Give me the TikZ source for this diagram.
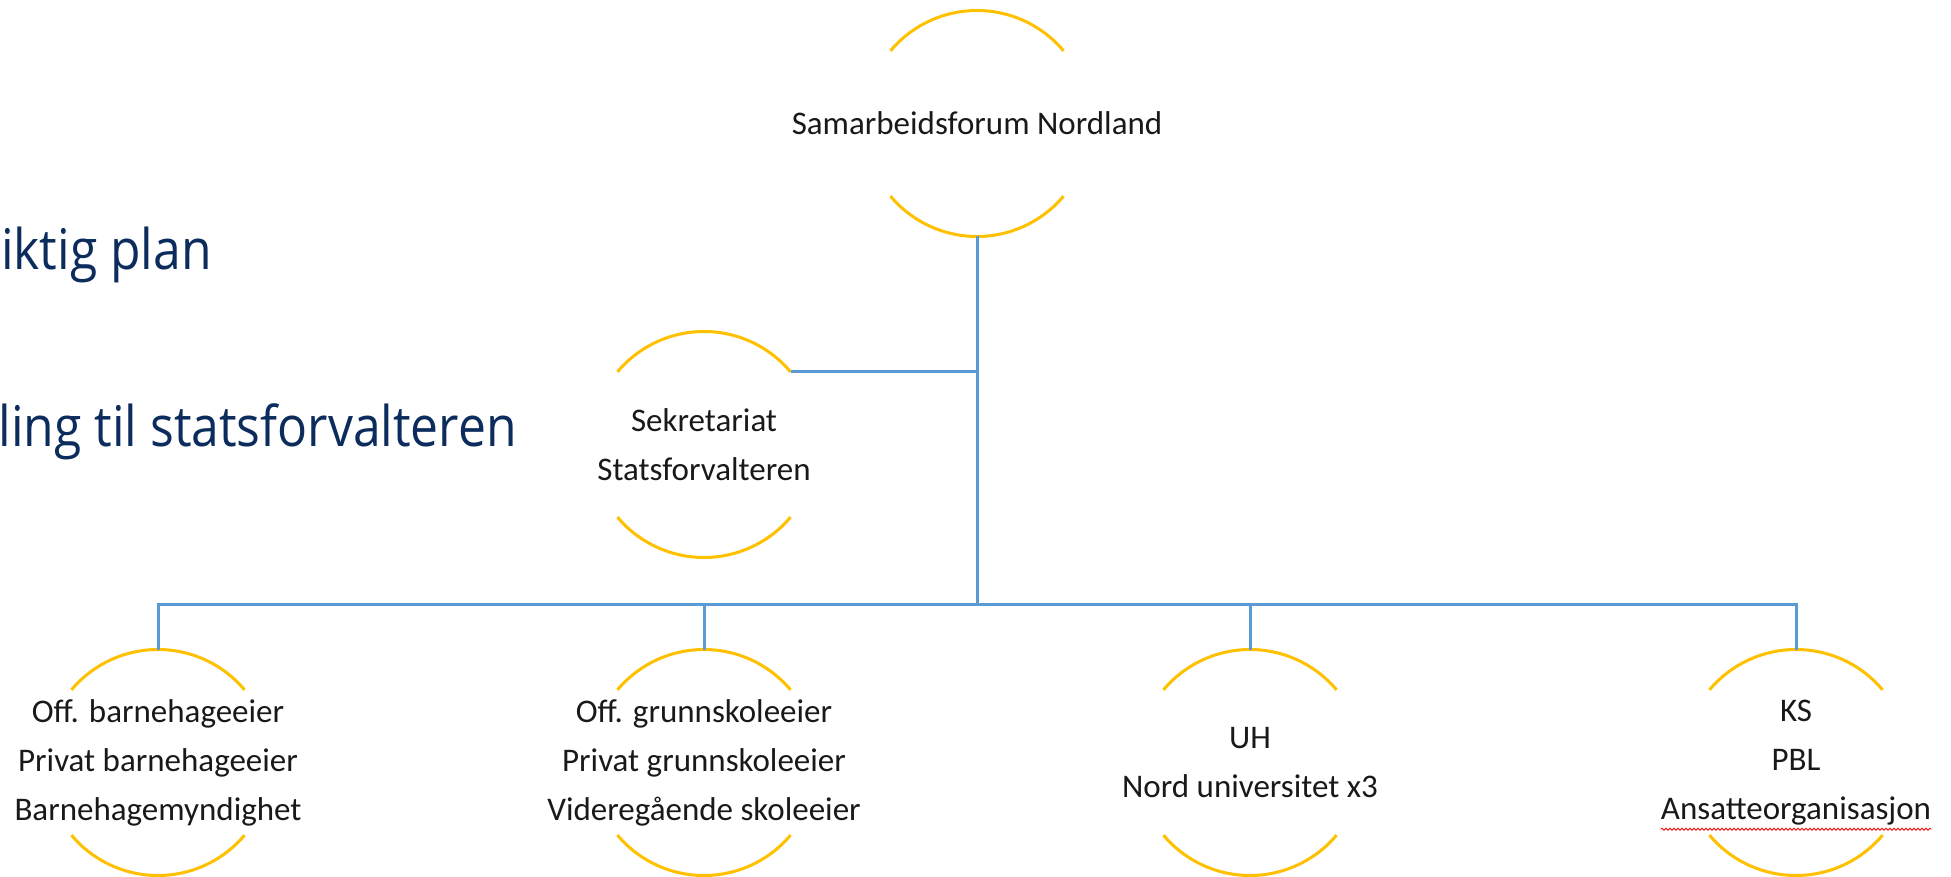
\documentclass[tikz,border=0pt]{standalone}
\usepackage{fontspec}
\setmainfont{Carlito}
\newfontfamily\slidefont[FakeStretch=0.89]{Open Sans}
\usetikzlibrary{decorations.pathmorphing}
\definecolor{ringgold}{HTML}{FFC000}
\definecolor{linkblue}{HTML}{5B9BD5}
\definecolor{slidenavy}{HTML}{0B2C5C}
\newcommand\ringarcs[1]{%
  \draw[arcline] (#1.40) arc[start angle=40,end angle=140,radius=113pt];
  \draw[arcline] (#1.220) arc[start angle=220,end angle=320,radius=113pt];}
\begin{document}
\begin{tikzpicture}[x=1pt,y=1pt,
  ring/.style={circle, minimum size=226pt, inner sep=0pt, outer sep=0pt},
  arcline/.style={draw=ringgold, line width=3pt},
  link/.style={draw=linkblue, line width=3pt, line join=miter},
  ringtext/.style={font=\fontsize{33}{49}\selectfont, align=center, text=black!90, inner sep=0pt},
  slidetext/.style={font=\slidefont\fontsize{56}{62}\selectfont, text=slidenavy, inner sep=0pt, anchor=base east}]
\useasboundingbox (0,0) rectangle (1951,876);

% left slide text (cut off)
\node[slidetext] (plan) at (212,606) {iktig plan};
\node[slidetext] (stat) at (517,429) {ling til statsforvalteren};

% rings
\node[ring] (top) at (977,752.5) {};
\node[ring] (sek) at (704,431.5) {};
\node[ring] (b1) at (158,113.5) {};
\node[ring] (b2) at (704,113.5) {};
\node[ring] (b3) at (1250,113.5) {};
\node[ring] (b4) at (1796,113.5) {};
\ringarcs{top}
\ringarcs{sek}
\ringarcs{b1}
\ringarcs{b2}
\ringarcs{b3}
\ringarcs{b4}

% texts
\node[ringtext] (ttop) at (top.center) {Samarbeidsforum Nordland};
\node[ringtext] (tsek) at (sek.center) {Sekretariat\\Statsforvalteren};
\node[ringtext] (tb1) at (b1.center) {Off. barnehageeier\\Privat barnehageeier\\Barnehagemyndighet};
\node[ringtext] (tb2) at (b2.center) {Off. grunnskoleeier\\Privat grunnskoleeier\\Videregående skoleeier};
\node[ringtext] (tb3) at (b3.center) {UH\\Nord universitet x3};
\node[ringtext] (tb4) at (b4.center) {KS\\PBL\\Ansatteorganisasjon};

% spell-check squiggle
\draw[red, line width=0.8pt, decorate, decoration={snake, amplitude=1.1pt, segment length=4pt}]
  (tb4.south west) ++(0,-4) coordinate (sq1) -- (sq1 -| tb4.south east);

% connectors
\coordinate (bus) at (977,271);
\draw[link] (top.south) -- (bus);
\draw[link] (sek.40) -- (sek.40 -| top.south);
\draw[link] (b1.north) -- (b1.north |- bus) -- (b4.north |- bus) -- (b4.north);
\draw[link] (b2.north) -- (b2.north |- bus);
\draw[link] (b3.north) -- (b3.north |- bus);
\end{tikzpicture}
\end{document}
